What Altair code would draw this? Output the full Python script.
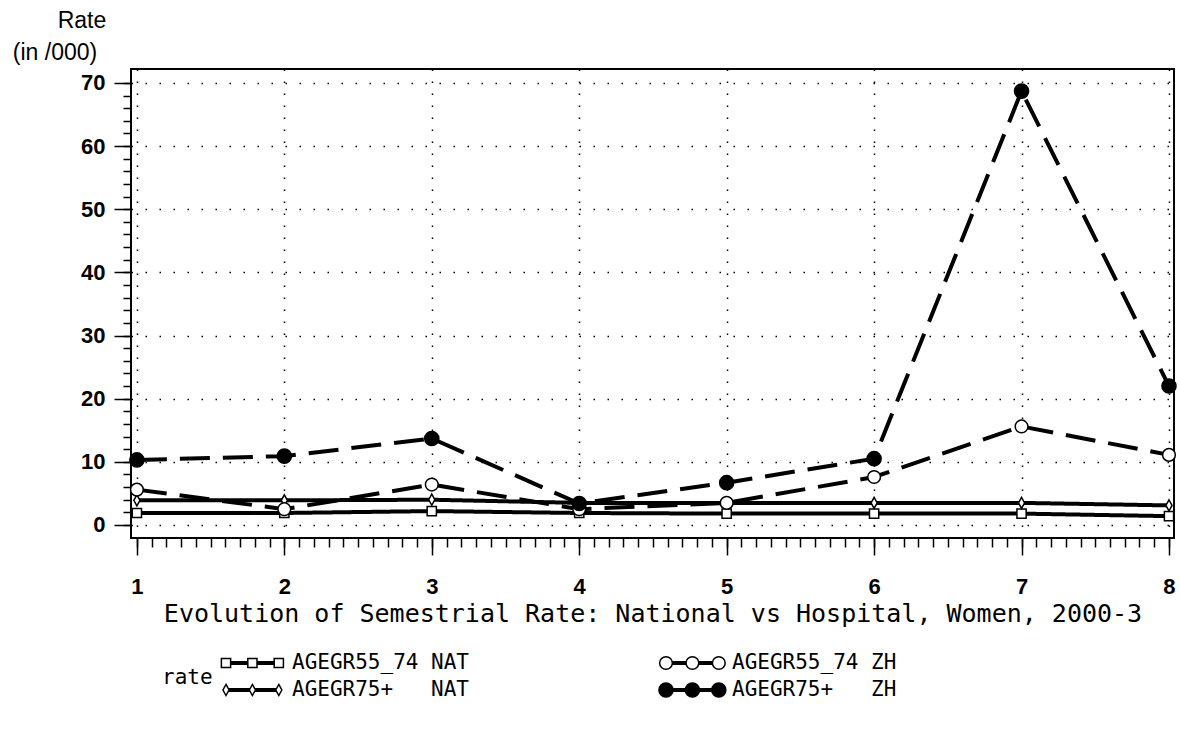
import altair as alt
import pandas as pd

# ---------------- data ----------------
semesters = [1, 2, 3, 4, 5, 6, 7, 8]
series_names = ["AGEGR55_74 NAT", "AGEGR75+ NAT", "AGEGR55_74 ZH", "AGEGR75+ ZH"]
rate_55_74_nat = [1.9, 1.9, 2.2, 1.9, 1.8, 1.8, 1.8, 1.4]
rate_75_nat = [3.9, 3.9, 4.0, 3.5, 3.5, 3.5, 3.5, 3.1]
rate_55_74_zh = [5.6, 2.5, 6.4, 2.5, 3.5, 7.6, 15.6, 11.1]
rate_75_zh = [10.3, 10.9, 13.7, 3.4, 6.7, 10.5, 68.7, 22.0]

y_ticks = [0, 10, 20, 30, 40, 50, 60, 70]
y_minor_ticks = list(range(0, 71, 2))
x_ticks = semesters
x_minor_ticks = [round(1 + i / 10, 1) for i in range(71)]

legend_labels = ["AGEGR55_74\u00a0NAT", "AGEGR75+\u00a0\u00a0\u00a0NAT",
                 "AGEGR55_74\u00a0ZH", "AGEGR75+\u00a0\u00a0\u00a0ZH"]
legend_col = [0, 0, 1, 1]
legend_row = [0, 1, 0, 1]

title_text = "Evolution of Semestrial Rate: National vs Hospital, Women, 2000-3"

# ---------------- tables ----------------
values = [rate_55_74_nat, rate_75_nat, rate_55_74_zh, rate_75_zh]
rows = []
for name, vals in zip(series_names, values):
    for s, v in zip(semesters, vals):
        rows.append({"semester": s, "rate": v, "series": name})
df = pd.DataFrame(rows)

leg = pd.DataFrame({"series": series_names, "label": legend_labels,
                    "lcol": legend_col, "lrow": legend_row})
leg_pts = leg.merge(pd.DataFrame({"k": [0, 1, 2]}), how="cross")

# ---------------- styles ----------------
DIAMOND = "M0,-1L0.55,0L0,1L-0.55,0Z"
shape_scale = alt.Scale(domain=series_names, range=["square", DIAMOND, "circle", "circle"])
fill_scale = alt.Scale(domain=series_names, range=["white", "white", "white", "black"])
size_scale = alt.Scale(domain=series_names, range=[85, 200, 160, 220])
width_scale = alt.Scale(domain=series_names, range=[4, 4, 1.3, 1.3])
dash_scale = alt.Scale(domain=series_names, range=[[1, 0], [1, 0], [30, 13], [30, 13]])

LABEL_FONT = "Liberation Sans"
MONO = "DejaVu Sans Mono"

xs = alt.Scale(domain=[0.96, 8.034], nice=False, zero=False)
ys = alt.Scale(domain=[-2.06, 72.2], nice=False, zero=False)

x_major = alt.Axis(values=x_ticks, format="d", orient="bottom", title=None,
                   labelFont=LABEL_FONT, labelFontSize=22, labelFontWeight="bold",
                   labelColor="black", labelPadding=21,
                   tickSize=17, tickWidth=1.5, tickColor="black",
                   domain=False, grid=True, gridColor="black",
                   gridDash=[1.5, 10.5], gridWidth=1.5, gridOpacity=1)
y_major = alt.Axis(values=y_ticks, format="d", orient="left", title=None,
                   labelFont=LABEL_FONT, labelFontSize=22, labelFontWeight="bold",
                   labelColor="black", labelPadding=9,
                   tickSize=17, tickWidth=1.5, tickColor="black",
                   domain=False, grid=True, gridColor="black",
                   gridDash=[1.5, 12.5], gridWidth=1.5, gridOpacity=1)
x_minor = alt.Axis(values=x_minor_ticks, orient="bottom", title=None, labels=False,
                   tickSize=9, tickWidth=1.5, tickColor="black", domain=False, grid=False)
y_minor = alt.Axis(values=y_minor_ticks, orient="left", title=None, labels=False,
                   tickSize=8, tickWidth=1.5, tickColor="black", domain=False, grid=False)

base = alt.Chart(df)

lines = base.mark_line(color="black").encode(
    x=alt.X("semester:Q", scale=xs, axis=x_major),
    y=alt.Y("rate:Q", scale=ys, axis=y_major),
    detail="series:N",
    strokeWidth=alt.StrokeWidth("series:N", scale=width_scale, legend=None),
    strokeDash=alt.StrokeDash("series:N", scale=dash_scale, legend=None),
)

points = base.mark_point(filled=True, stroke="black", strokeWidth=1.5, opacity=1).encode(
    x=alt.X("semester:Q", scale=xs, axis=x_minor),
    y=alt.Y("rate:Q", scale=ys, axis=y_minor),
    shape=alt.Shape("series:N", scale=shape_scale, legend=None),
    fill=alt.Fill("series:N", scale=fill_scale, legend=None),
    size=alt.Size("series:N", scale=size_scale, legend=None),
)

plot = alt.layer(lines, points).resolve_axis(x="independent", y="independent")

# ---------------- legend (drawn through its own scales) ----------------
lxs = alt.Scale(domain=[0, 1], range=[95, 535])
lys = alt.Scale(domain=[0, 1], range=[594, 621])

leg_rules = alt.Chart(leg).transform_calculate(
    lend="datum.lcol + 0.12"
).mark_rule(color="black").encode(
    x=alt.X("lcol:Q", scale=lxs, axis=None),
    x2="lend:Q",
    y=alt.Y("lrow:Q", scale=lys, axis=None),
    strokeWidth=alt.StrokeWidth("series:N", scale=width_scale, legend=None),
)
leg_points = alt.Chart(leg_pts).transform_calculate(
    lx="datum.lcol + datum.k * 0.06"
).mark_point(filled=True, stroke="black", strokeWidth=1.5, opacity=1).encode(
    x=alt.X("lx:Q", scale=lxs, axis=None),
    y=alt.Y("lrow:Q", scale=lys, axis=None),
    shape=alt.Shape("series:N", scale=shape_scale, legend=None),
    fill=alt.Fill("series:N", scale=fill_scale, legend=None),
    size=alt.Size("series:N", scale=size_scale, legend=None),
)
leg_text = alt.Chart(leg).mark_text(
    align="left", baseline="middle", dx=66, font=MONO, fontSize=21, color="black"
).encode(
    x=alt.X("lcol:Q", scale=lxs, axis=None),
    y=alt.Y("lrow:Q", scale=lys, axis=None),
    text="label:N",
)
legend = alt.layer(leg_rules, leg_points, leg_text)

# ---------------- free text ----------------
one = alt.Data(values=[{}])
rate_word = alt.Chart(one).mark_text(
    align="left", baseline="middle", font=MONO, fontSize=21, color="black"
).encode(x=alt.value(31), y=alt.value(609), text=alt.value("rate"))
title = alt.Chart(one).mark_text(
    align="center", baseline="middle", font=MONO, fontSize=25, color="black"
).encode(x=alt.value(522), y=alt.value(545), text=alt.value(title_text))
ytitle1 = alt.Chart(one).mark_text(
    align="center", baseline="alphabetic", font=LABEL_FONT, fontSize=23, color="black"
).encode(x=alt.value(-49), y=alt.value(-41), text=alt.value("Rate"))
ytitle2 = alt.Chart(one).mark_text(
    align="center", baseline="alphabetic", font=LABEL_FONT, fontSize=23, color="black"
).encode(x=alt.value(-76), y=alt.value(-9), text=alt.value("(in /000)"))

chart = alt.layer(plot, legend, rate_word, title, ytitle1, ytitle2).resolve_scale(
    x="independent", y="independent"
).properties(
    width=1043, height=469,
    autosize=alt.AutoSizeParams(type="none"),
    padding={"left": 131, "top": 69, "right": 6, "bottom": 202},
    background="white",
).configure_view(stroke="black", strokeWidth=2)

chart.save("out.html", embed_options={"renderer": "svg", "actions": False})
